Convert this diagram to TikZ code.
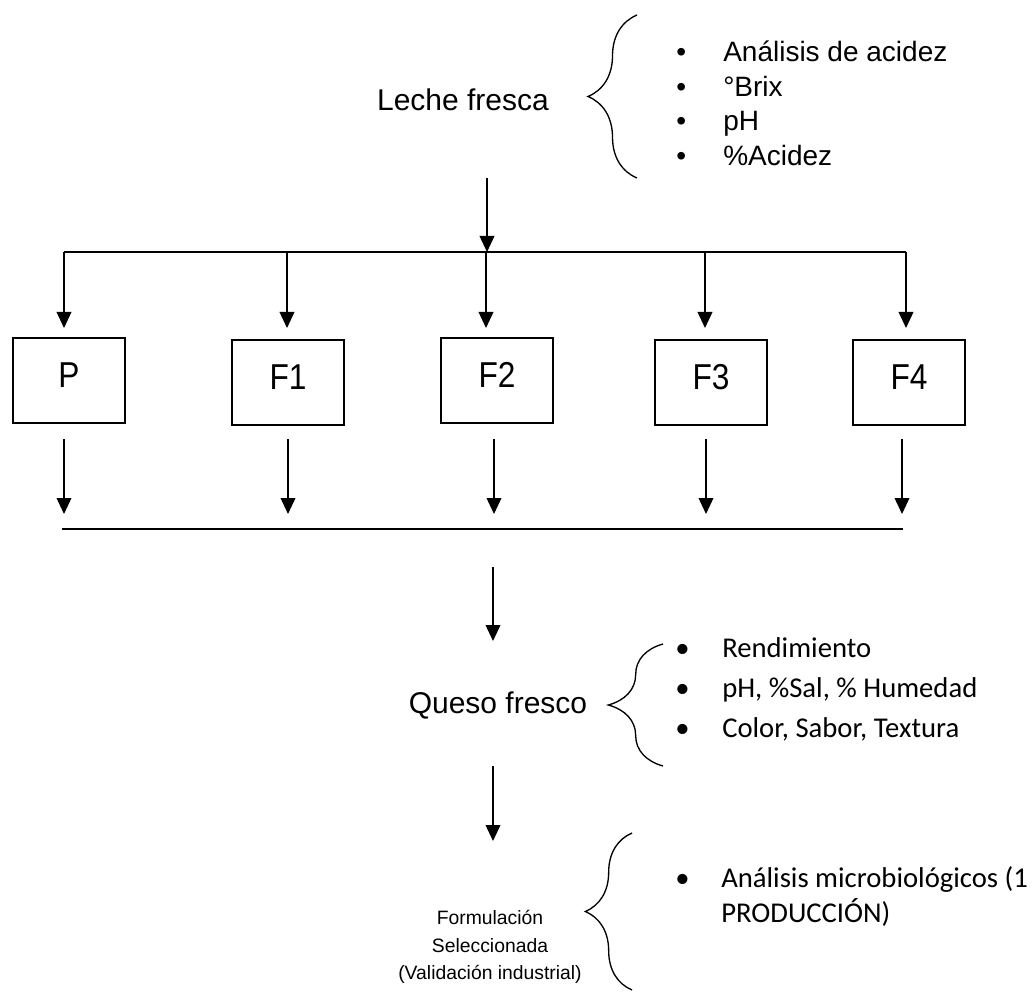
\documentclass[tikz,border=0pt]{standalone}
\usepackage{fontspec}
\setmainfont{Liberation Sans}
\newfontfamily\boxfont[FakeStretch=0.88]{Liberation Sans}
\newfontfamily\calib{Carlito}
\usetikzlibrary{decorations.pathreplacing,arrows.meta}
\begin{document}
\begin{tikzpicture}[x=0.75pt,y=-0.75pt,
  ln/.style={line width=1.2pt},
  arr/.style={line width=1.2pt,-{Triangle[width=11pt,length=12pt]}},
  stepbox/.style={draw,line width=1.8pt,minimum width=84pt,minimum height=63.75pt,inner sep=0pt,
    text height=19.3pt,text depth=9pt,font=\boxfont\fontsize{27}{32}\selectfont},
  big/.style={inner sep=0pt,anchor=base,font=\fontsize{22.5}{27}\selectfont},
  blt/.style={inner sep=0pt,anchor=base west,font=\fontsize{21}{25}\selectfont},
  cblt/.style={inner sep=0pt,anchor=base west,font=\calib\fontsize{21.5}{25}\selectfont},
  sml/.style={inner sep=0pt,anchor=base,font=\fontsize{14.5}{18}\selectfont},
  brc/.style={line width=1pt,decorate,decoration={brace,amplitude=#1}}]
\useasboundingbox (0,0) rectangle (1034,998);

% --- Leche fresca
\node[big] (leche) at (463,111) {Leche fresca};
\coordinate (b1s) at (637,178);
\coordinate (b1e) at (637,15);
\draw[brc=36.75pt] (b1s) -- (b1e);
\foreach \t/\y [count=\i] in {Análisis de acidez/62, °Brix/97, pH/131, \%Acidez/166}{
  \node[blt] (lb\i) at (676,\y) {•};
  \node[blt] (l\i) at (723,\y) {\t};
}

% --- distribution
\coordinate (a0) at (487,178);
\coordinate (hm) at (487,252);
\draw[arr] (a0) -- (hm);

\node[stepbox] (P)  at (69,380.5)  {P};
\node[stepbox] (F1) at (288,382.5) {F1};
\node[stepbox] (F2) at (497,380.5) {F2};
\node[stepbox] (F3) at (711,382.5) {F3};
\node[stepbox] (F4) at (909,382.5) {F4};

\foreach \x/\n in {64/P,287/F1,486/F2,705/F3,906/F4}{
  \coordinate (u\n) at (\x,252);
  \coordinate (v\n) at (\x,328);
  \draw[arr] (u\n) -- (v\n);
}
\draw[ln] (uP) -- (uF4);
\foreach \x/\n in {64/P,288/F1,494/F2,706/F3,902/F4}{
  \coordinate (s\n) at (\x,439);
  \coordinate (t\n) at (\x,514);
  \draw[arr] (s\n) -- (t\n);
}
\coordinate (ll) at (62,529);
\coordinate (lr) at (903,529);
\draw[ln] (ll) -- (lr);

% --- Queso fresco
\coordinate (q0) at (493,567);
\coordinate (q1) at (493,641);
\draw[arr] (q0) -- (q1);
\node[big] (queso) at (498,713) {Queso fresco};
\coordinate (b2s) at (663,766);
\coordinate (b2e) at (663,644);
\draw[brc=41pt] (b2s) -- (b2e);
\foreach \t/\y [count=\i] in {Rendimiento/657, {pH, \%Sal, \% Humedad}/697, {Color, Sabor, Textura}/737}{
  \node[cblt] (qb\i) at (675,\y) {•};
  \node[cblt] (q\i) at (722,\y) {\t};
}

% --- Formulación
\coordinate (f0) at (493,766);
\coordinate (f1) at (493,841);
\draw[arr] (f0) -- (f1);
\node[sml] (form1) at (490,924) {Formulación};
\node[sml] (form2) at (490,952) {Seleccionada};
\node[sml] (form3) at (490,979) {(Validación industrial)};
\coordinate (b3s) at (632,990);
\coordinate (b3e) at (632,833);
\draw[brc=35pt] (b3s) -- (b3e);
\node[cblt] (mb) at (675,887) {•};
\node[cblt] (m1) at (721,887) {Análisis microbiológicos (1};
\node[cblt] (m2) at (721,922) {PRODUCCIÓN)};
\end{tikzpicture}
\end{document}
